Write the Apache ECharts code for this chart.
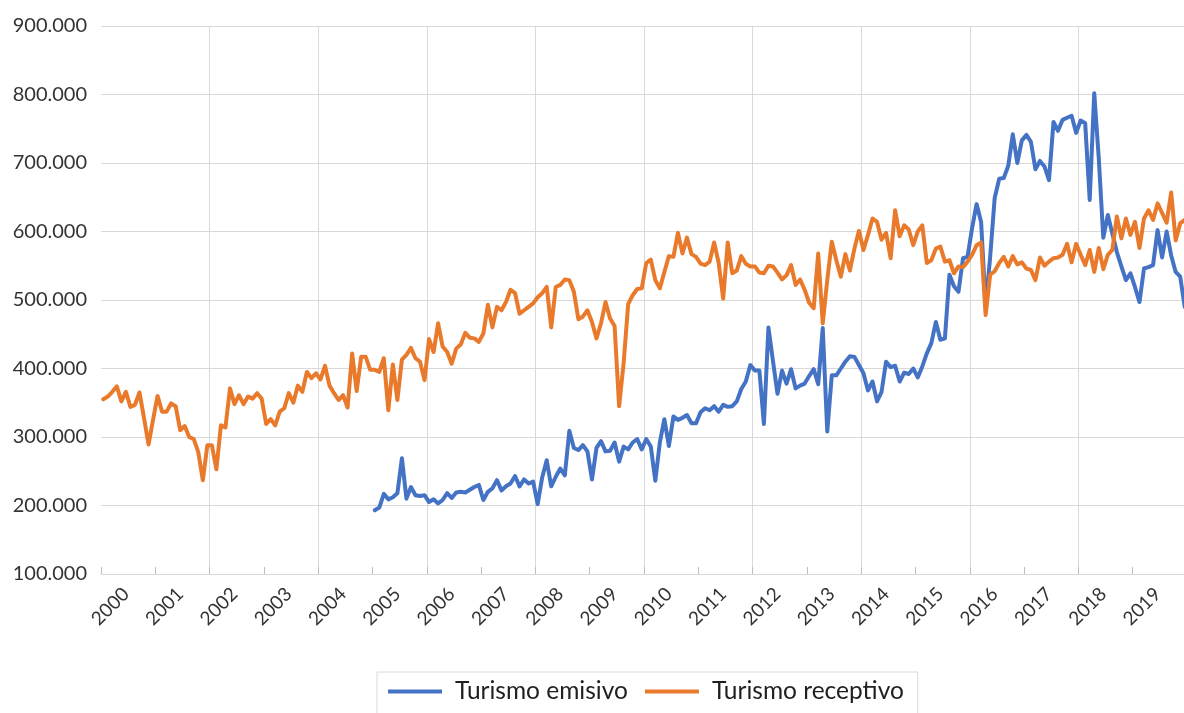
<!DOCTYPE html>
<html>
<head>
<meta charset="utf-8">
<script src="https://cdn.jsdelivr.net/npm/echarts@6/dist/echarts.min.js"></script>
<style>
html,body{margin:0;padding:0;background:#fff;}
#chart{width:1184px;height:713px;}
</style>
</head>
<body>
<div id="chart"></div>
<script>
// Years on the axis (monthly data, Jan 2000 - Dec 2019)
const years = [2000,2001,2002,2003,2004,2005,2006,2007,2008,2009,2010,2011,2012,2013,2014,2015,2016,2017,2018,2019];

// Turismo receptivo, thousands, monthly from Jan 2000
const receptivo = [
355,359,366,374,352,366,344,347,365,328,289,325,
360,337,337,349,345,310,316,300,297,278,237,288,
288,253,317,314,371,348,361,348,359,356,364,356,
319,326,317,337,342,364,350,375,366,395,386,393,
384,404,375,364,354,361,343,422,367,417,417,398,
398,395,415,339,406,354,413,420,430,415,410,383,
443,424,466,432,424,407,429,435,452,445,444,439,
451,493,460,490,485,497,515,510,480,485,490,495,
504,510,519,460,519,522,530,529,512,472,476,485,
468,444,466,497,473,462,345,408,494,507,516,517,
554,559,529,517,541,564,563,598,568,591,567,563,
553,551,556,584,554,502,584,539,543,564,553,549,
549,540,539,550,549,540,530,536,551,522,530,515,
496,488,568,466,529,585,558,534,567,543,575,601,
573,595,619,614,588,598,561,631,593,609,603,580,
600,609,554,558,575,578,556,558,539,549,548,556,
566,580,584,478,537,542,554,563,549,564,552,555,
546,544,529,562,550,556,561,562,566,582,555,582,
566,551,573,541,576,545,566,573,622,590,619,595,
614,576,619,631,617,641,627,613,657,587,612,617
];

// Turismo emisivo, thousands, monthly from Jan 2005
const emisivoStartYear = 2005;
const emisivo = [
193,197,217,209,212,218,269,210,227,215,214,215,
205,209,203,208,218,211,219,220,219,223,227,230,
208,220,225,237,222,228,232,243,228,238,232,235,
202,241,266,228,242,254,244,309,284,281,288,279,
238,284,294,279,280,292,264,286,282,292,297,282,
297,286,236,292,326,287,330,325,328,332,320,320,
336,342,339,345,337,347,344,345,352,370,381,405,
397,397,319,460,411,363,397,378,399,371,375,378,
389,399,377,459,308,390,390,400,410,418,417,405,
393,368,381,352,366,410,402,404,381,394,392,400,
387,403,422,437,468,442,444,537,520,512,561,563,
605,640,614,490,563,649,677,678,696,742,700,733,
741,731,691,703,695,675,760,747,763,766,769,744,
762,758,646,802,707,591,624,597,570,549,529,539,
519,497,546,548,551,602,562,600,565,541,534,490
];

const seriesNames = ['Turismo emisivo','Turismo receptivo'];

// Build monthly categories
const months = [];
years.forEach(y => { for (let m = 1; m <= 12; m++) months.push(y + '-' + (m < 10 ? '0' + m : m)); });
const offset = (emisivoStartYear - years[0]) * 12;
const emisivoFull = months.map((_, i) => (i >= offset && i - offset < emisivo.length) ? emisivo[i - offset] : null);

const FONT = 'Lato, "Noto Sans", sans-serif';
const chart = echarts.init(document.getElementById('chart'), null, {renderer: 'canvas'});
chart.setOption({
  animation: false,
  backgroundColor: '#ffffff',
  color: ['#4472C4', '#E97A2C'],
  grid: {left: 101, right: -3, top: 26, bottom: 139, outerBoundsMode: 'none'},
  legend: {
    data: seriesNames,
    left: 377, top: 672,
    orient: 'horizontal',
    padding: [7, 14, 30, 11],
    itemWidth: 54, itemHeight: 4, itemGap: 17,
    icon: 'rect',
    borderColor: '#d9d9d9', borderWidth: 1, backgroundColor: '#fff',
    textStyle: {fontFamily: FONT, fontSize: 24.5, color: '#1f1f1f', padding: [0, 0, 0, 8]}
  },
  xAxis: {
    type: 'category',
    data: months,
    boundaryGap: true,
    axisLine: {show: true, lineStyle: {color: '#d9d9d9', width: 1}},
    axisTick: {show: true, inside: true, length: 7, interval: (i) => i % 12 === 0, lineStyle: {color: '#bfbfbf'}},
    splitLine: {show: true, interval: (i) => i % 24 === 0 && i > 0, lineStyle: {color: '#d9d9d9', width: 1}},
    axisLabel: {
      interval: (i) => i % 12 === 5,
      rotate: 45, margin: 17,
      fontFamily: FONT, fontSize: 19, color: '#333333',
      formatter: (v) => v.slice(0, 4)
    }
  },
  yAxis: {
    type: 'value',
    min: 100, max: 900, interval: 100,
    axisLine: {show: false},
    axisTick: {show: false},
    splitLine: {show: true, lineStyle: {color: '#d9d9d9', width: 1}},
    axisLabel: {margin: 14, fontFamily: FONT, fontSize: 20, color: '#333333', formatter: (v) => v + '.000'}
  },
  series: [
    {name: seriesNames[0], type: 'line', data: emisivoFull, symbol: 'none', connectNulls: false,
     lineStyle: {width: 4, join: 'round', cap: 'round'}},
    {name: seriesNames[1], type: 'line', data: receptivo, symbol: 'none',
     lineStyle: {width: 4, join: 'round', cap: 'round'}}
  ]
});
</script>
</body>
</html>
